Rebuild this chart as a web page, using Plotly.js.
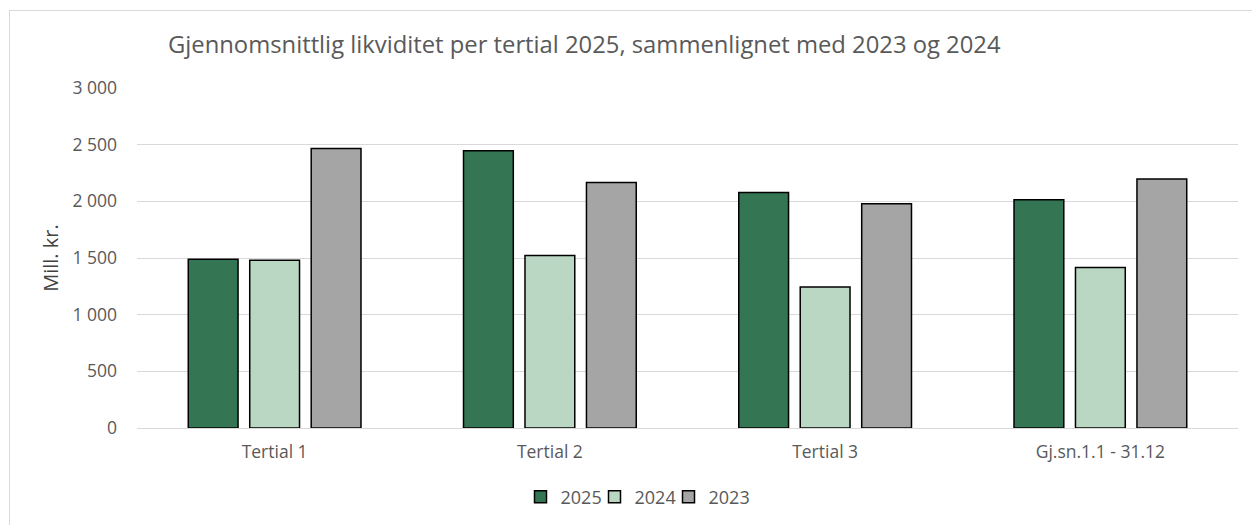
<!DOCTYPE html>
<html>
<head>
<meta charset="utf-8">
<script src="https://cdn.plot.ly/plotly-3.0.1.min.js"></script>
<style>
  html, body { margin: 0; padding: 0; background: #ffffff; overflow: hidden; }
  #wrap { position: relative; width: 1252px; height: 525px; }
  #chart { position: absolute; left: 0; top: 0; width: 1252px; height: 525px; }
  #frame { position: absolute; left: 9px; top: 10px; width: 1260px; height: 540px;
           border: 1px solid #d9d9d9; box-sizing: border-box; pointer-events: none; }
</style>
</head>
<body>
<div id="wrap">
  <div id="chart"></div>
  <div id="frame"></div>
</div>
<script>
const categories = ["Tertial 1", "Tertial 2", "Tertial 3", "Gj.sn.1.1 - 31.12"];
const seriesNames = ["2025", "2024", "2023"];
const values2025 = [1489, 2446, 2078, 2013];
const values2024 = [1481, 1522, 1245, 1416];
const values2023 = [2467, 2167, 1978, 2196];
const yTickVals = [0, 500, 1000, 1500, 2000, 2500, 3000];

const colors = ["#347553", "#bad7c4", "#a5a5a5"];
const legendWidths = [29, 29, 46];
const allValues = [values2025, values2024, values2023];

const traces = seriesNames.map((name, i) => ({
  type: "bar",
  name: name,
  x: categories,
  y: allValues[i],
  legendwidth: legendWidths[i],
  marker: { color: colors[i], line: { color: "#000000", width: 1.5 } },
  hoverinfo: "x+y+name"
}));

const font = "'Open Sans', 'Noto Sans', sans-serif";

const layout = {
  width: 1252,
  height: 525,
  margin: { l: 137, r: 14, t: 88, b: 97 },
  paper_bgcolor: "rgba(0,0,0,0)",
  plot_bgcolor: "#ffffff",
  font: { family: font, color: "#595959", size: 17 },
  separators: ", ",
  title: {
    text: "Gjennomsnittlig likviditet per tertial 2025, sammenlignet med 2023 og 2024",
    font: { family: font, size: 23.8, color: "#595959" },
    xref: "container", x: 168 / 1252, xanchor: "left",
    yref: "container", y: 1 - 45 / 525, yanchor: "middle"
  },
  barmode: "group",
  bargap: 0.33,
  bargroupgap: 0.19,
  xaxis: {
    type: "category",
    showgrid: false,
    showline: false,
    zeroline: false,
    ticks: "",
    ticklabelstandoff: 11,
    tickfont: { family: font, size: 17.5, color: "#595959" }
  },
  yaxis: {
    range: [0, 3000],
    tickvals: yTickVals,
    separatethousands: true,
    tickformat: ",d",
    showgrid: true,
    gridcolor: "#d9d9d9",
    gridwidth: 1,
    zeroline: true,
    zerolinecolor: "#d9d9d9",
    zerolinewidth: 1,
    showline: false,
    ticks: "",
    ticklabelstandoff: 19,
    tickfont: { family: font, size: 17.5, color: "#595959" },
    title: { text: "Mill. kr.", font: { family: font, size: 20, color: "#404040" }, standoff: 8 }
  },
  legend: {
    orientation: "h",
    x: 640 / 1252, xref: "container", xanchor: "center",
    y: 1 - 497 / 525, yref: "container", yanchor: "middle",
    font: { family: font, size: 18, color: "#595959" },
    itemwidth: 30,
    traceorder: "normal"
  },
  showlegend: true
};

Plotly.newPlot("chart", traces, layout, { displayModeBar: false, staticPlot: true });
</script>
</body>
</html>
